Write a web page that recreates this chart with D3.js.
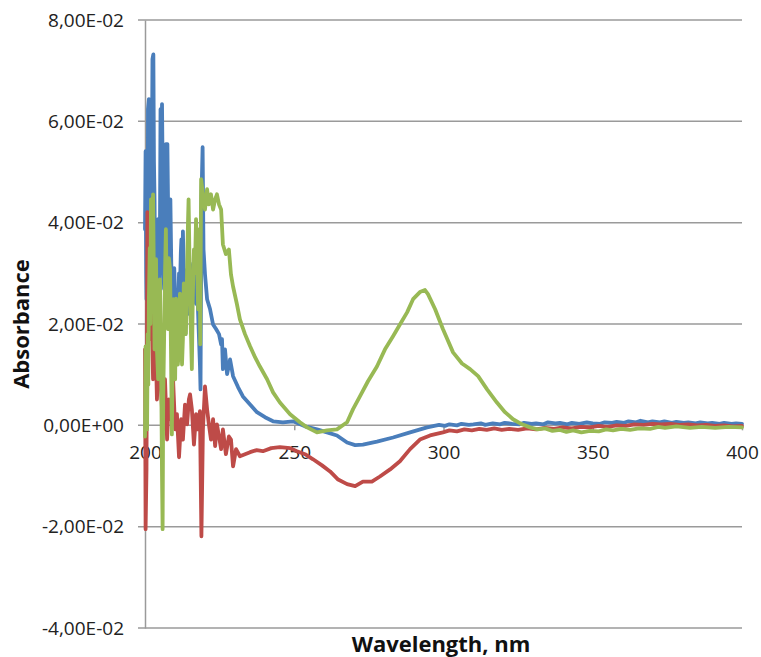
<!DOCTYPE html>
<html>
<head>
<meta charset="utf-8">
<script src="https://cdn.jsdelivr.net/npm/d3@7"></script>
<style>
  body { margin: 0; background: #fff; }
  text { font-family: "Open Sans", sans-serif; }
</style>
</head>
<body>
<div id="chart"></div>
<script>
/*
------------------------------
DATA, [wavelength nm, absorbance]
------------------------------
*/
const xTicks = [200, 250, 300, 350, 400];
const yTicks = [-0.04, -0.02, 0, 0.02, 0.04, 0.06, 0.08];

const blue = [
  [200.0, 0.0387], [200.2, 0.0541], [200.4, 0.0300], [200.5, 0.0249], [200.7, 0.0486],
  [200.9, 0.0350], [201.0, 0.0624], [201.3, 0.0644], [201.5, 0.0420], [201.7, 0.0328],
  [202.0, 0.0565], [202.2, 0.0410], [202.5, 0.0723], [202.8, 0.0732], [203.0, 0.0520],
  [203.2, 0.0446], [203.5, 0.0209], [203.7, 0.0400], [203.9, 0.0347], [204.0, 0.0190],
  [204.2, 0.0380], [204.4, 0.0407], [204.7, 0.0260], [204.9, 0.0249], [205.2, 0.0624],
  [205.4, 0.0480], [205.7, 0.0634], [206.0, 0.0446], [206.2, 0.0300], [206.4, 0.0269],
  [206.7, 0.0486], [207.0, 0.0555], [207.2, 0.0420], [207.5, 0.0555], [207.9, 0.0347],
  [208.2, 0.0209], [208.5, 0.0446], [208.8, 0.0320], [209.0, 0.0288], [209.3, 0.0200],
  [209.5, 0.0170], [209.8, 0.0310], [210.1, 0.0249], [210.4, 0.0180], [210.6, 0.0150],
  [210.9, 0.0260], [211.1, 0.0229], [211.4, 0.0300], [211.7, 0.0269], [212.0, 0.0340],
  [212.2, 0.0367], [212.5, 0.0250], [212.7, 0.0383], [213.0, 0.0300], [213.2, 0.0249],
  [213.5, 0.0180], [213.7, 0.0209], [214.0, 0.0290], [214.2, 0.0308], [214.5, 0.0220],
  [214.7, 0.0249], [215.0, 0.0320], [215.4, 0.0308], [215.7, 0.0230], [216.1, 0.0269],
  [216.5, 0.0310], [216.8, 0.0328], [217.1, 0.0240], [217.4, 0.0288], [217.8, 0.0220],
  [218.1, 0.0170], [218.4, 0.0120], [218.6, 0.0071], [218.9, 0.0446], [219.3, 0.0549],
  [219.6, 0.0347], [220.1, 0.0298], [220.8, 0.0249], [221.8, 0.0229], [222.8, 0.0199],
  [223.8, 0.0190], [224.8, 0.0180], [225.5, 0.0160], [225.8, 0.0170], [226.1, 0.0111],
  [226.8, 0.0150], [227.5, 0.0101], [228.5, 0.0130], [229.5, 0.0097], [231.2, 0.0075],
  [232.8, 0.0057], [235.2, 0.0041], [237.5, 0.0026], [240.2, 0.0016], [242.9, 0.0008],
  [246.2, 0.0006], [249.6, 0.0008], [253.6, -0.0002], [257.6, -0.0008], [261.0, -0.0014],
  [264.3, -0.0020], [267.7, -0.0034], [270.4, -0.0039], [273.0, -0.0038], [277.7, -0.0032],
  [283.1, -0.0024], [288.8, -0.0014], [294.5, -0.0004], [298.5, 0.0001], [300.5, -0.0001],
  [302.0, 0.0002], [304.5, 0.0000], [306.0, 0.0003], [308.5, 0.0001], [310.0, 0.0002],
  [312.5, 0.0004], [314.0, 0.0001], [316.5, 0.0004], [319.0, 0.0002], [320.5, 0.0005],
  [323.0, 0.0003], [325.5, 0.0002], [327.0, 0.0005], [329.5, 0.0003], [331.0, 0.0004],
  [333.5, 0.0002], [335.0, 0.0006], [337.5, 0.0004], [339.0, 0.0005], [341.5, 0.0002],
  [343.0, 0.0005], [345.5, 0.0003], [348.0, 0.0006], [350.0, 0.0004], [352.5, 0.0003],
  [354.0, 0.0006], [356.5, 0.0005], [358.0, 0.0007], [360.5, 0.0005], [362.0, 0.0008],
  [364.5, 0.0006], [366.0, 0.0009], [368.5, 0.0006], [370.0, 0.0008], [372.5, 0.0006],
  [374.0, 0.0008], [376.5, 0.0005], [378.0, 0.0007], [380.5, 0.0005], [382.0, 0.0006],
  [384.5, 0.0004], [386.0, 0.0006], [388.5, 0.0004], [390.0, 0.0005], [392.5, 0.0003],
  [394.0, 0.0005], [396.5, 0.0003], [398.0, 0.0004], [400.0, 0.0003]
];

const red = [
  [200.0, 0.0150], [200.2, -0.0205], [200.5, -0.0087], [200.8, 0.0421], [201.2, 0.0249],
  [201.7, 0.0170], [202.0, 0.0288], [202.7, 0.0091], [203.4, 0.0209], [204.0, 0.0051],
  [204.7, 0.0150], [205.0, 0.0249], [205.4, 0.0071], [206.0, -0.0008], [206.7, 0.0091],
  [207.4, -0.0028], [208.0, 0.0051], [208.7, 0.0012], [209.4, 0.0091], [210.1, -0.0008],
  [210.7, 0.0022], [211.4, -0.0063], [212.1, 0.0012], [212.7, -0.0028], [213.4, 0.0041],
  [214.1, 0.0002], [214.7, 0.0051], [215.1, 0.0061], [215.7, 0.0032], [216.4, -0.0038],
  [217.1, 0.0022], [217.8, -0.0008], [218.4, 0.0028], [218.9, -0.0219], [219.4, -0.0008],
  [220.1, 0.0077], [220.8, 0.0032], [221.4, 0.0002], [222.1, -0.0028], [222.8, 0.0012],
  [223.5, -0.0041], [224.1, 0.0002], [224.8, -0.0022], [225.5, -0.0047], [226.1, -0.0008],
  [227.1, -0.0057], [228.1, -0.0022], [228.8, -0.0028], [229.5, -0.0081], [230.5, -0.0047],
  [231.8, -0.0061], [233.5, -0.0057], [235.2, -0.0053], [237.4, -0.0049], [239.5, -0.0051],
  [242.3, -0.0045], [245.2, -0.0043], [248.6, -0.0045], [250.9, -0.0051], [253.6, -0.0057],
  [256.3, -0.0067], [259.3, -0.0079], [262.0, -0.0091], [264.7, -0.0107], [267.7, -0.0116],
  [270.4, -0.0120], [273.0, -0.0111], [276.0, -0.0111], [278.7, -0.0101], [282.1, -0.0087],
  [285.4, -0.0071], [288.8, -0.0047], [292.1, -0.0028], [295.5, -0.0020], [299.8, -0.0014],
  [302.0, -0.0010], [304.5, -0.0012], [307.0, -0.0008], [309.5, -0.0010], [312.0, -0.0007],
  [314.5, -0.0009], [317.0, -0.0006], [319.5, -0.0009], [322.0, -0.0007], [325.0, -0.0009],
  [328.0, -0.0006], [331.0, -0.0008], [334.0, -0.0005], [337.0, -0.0007], [340.0, -0.0004],
  [343.0, -0.0006], [346.0, -0.0003], [349.0, -0.0004], [352.0, -0.0001], [355.0, -0.0003],
  [358.0, 0.0000], [361.0, -0.0001], [364.0, 0.0002], [367.0, 0.0001], [370.0, 0.0003],
  [373.0, 0.0002], [376.0, 0.0003], [379.0, 0.0001], [382.0, 0.0002], [385.0, 0.0000],
  [388.0, 0.0001], [391.0, -0.0001], [394.0, 0.0000], [397.0, -0.0002], [400.0, -0.0001]
];

const green = [
  [200.0, -0.0022], [200.2, 0.0156], [200.4, 0.0050], [200.7, -0.0008], [200.9, 0.0180],
  [201.1, 0.0080], [201.3, 0.0249], [201.6, 0.0350], [201.8, 0.0200], [202.0, 0.0446],
  [202.3, 0.0300], [202.7, 0.0456], [203.0, 0.0280], [203.2, 0.0150], [203.5, 0.0250],
  [203.7, 0.0328], [204.0, 0.0150], [204.4, 0.0091], [204.7, 0.0220], [205.0, 0.0288],
  [205.3, 0.0150], [205.5, 0.0051], [205.7, -0.0100], [205.9, -0.0205], [206.1, 0.0050],
  [206.4, 0.0170], [206.7, 0.0300], [207.0, 0.0387], [207.3, 0.0250], [207.7, 0.0190],
  [208.0, 0.0330], [208.4, 0.0308], [208.7, 0.0150], [209.0, -0.0018], [209.3, 0.0150],
  [209.5, 0.0249], [209.8, 0.0180], [210.1, 0.0091], [210.4, 0.0250], [210.7, 0.0209],
  [211.0, 0.0120], [211.4, 0.0150], [211.7, 0.0260], [212.1, 0.0203], [212.4, 0.0120],
  [212.7, 0.0170], [213.0, 0.0280], [213.4, 0.0249], [213.7, 0.0180], [214.1, 0.0308],
  [214.4, 0.0400], [214.6, 0.0446], [214.9, 0.0330], [215.1, 0.0249], [215.4, 0.0180],
  [215.7, 0.0111], [216.0, 0.0250], [216.4, 0.0347], [216.7, 0.0300], [217.1, 0.0407],
  [217.4, 0.0340], [217.8, 0.0229], [218.0, 0.0300], [218.3, 0.0387], [218.5, 0.0160],
  [218.8, 0.0486], [219.4, 0.0456], [220.1, 0.0426], [220.8, 0.0466], [221.4, 0.0436],
  [222.1, 0.0456], [222.8, 0.0426], [223.5, 0.0446], [224.1, 0.0456], [224.8, 0.0436],
  [225.5, 0.0426], [226.1, 0.0357], [227.1, 0.0338], [228.1, 0.0347], [228.8, 0.0298],
  [229.5, 0.0274], [230.8, 0.0239], [231.8, 0.0209], [233.5, 0.0180], [235.2, 0.0156],
  [236.9, 0.0134], [238.5, 0.0116], [240.9, 0.0091], [242.9, 0.0065], [245.2, 0.0045],
  [248.6, 0.0022], [251.9, 0.0006], [254.3, -0.0004], [257.6, -0.0014], [261.0, -0.0010],
  [264.3, -0.0008], [267.7, 0.0006], [269.7, 0.0032], [272.0, 0.0057], [274.7, 0.0087],
  [277.7, 0.0116], [280.4, 0.0150], [283.1, 0.0176], [285.4, 0.0199], [287.8, 0.0223],
  [289.8, 0.0249], [292.1, 0.0263], [293.8, 0.0267], [294.8, 0.0259], [297.2, 0.0229],
  [299.8, 0.0190], [303.2, 0.0144], [306.2, 0.0122], [308.9, 0.0111], [311.6, 0.0097],
  [314.6, 0.0071], [317.9, 0.0045], [320.6, 0.0026], [323.3, 0.0012], [326.3, 0.0002],
  [329.0, -0.0004], [331.5, -0.0008], [334.0, -0.0006], [336.5, -0.0011], [339.0, -0.0009],
  [341.2, -0.0013], [343.4, -0.0010], [346.2, -0.0014], [349.1, -0.0011], [352.0, -0.0012],
  [354.5, -0.0008], [356.8, -0.0010], [359.5, -0.0007], [362.5, -0.0009], [365.5, -0.0006],
  [369.2, -0.0007], [372.0, -0.0003], [374.2, -0.0005], [378.0, -0.0002], [382.6, -0.0005],
  [386.5, -0.0003], [391.0, -0.0005], [395.5, -0.0003], [400.0, -0.0004]
];

const series = [
  { name: "blue", color: "#4a7ebb", values: blue },
  { name: "red", color: "#be4b48", values: red },
  { name: "green", color: "#98b954", values: green }
];

/*
------------------------------
METHOD: set the size of the canvas
------------------------------
*/
const width = 761;
const height = 657;
const margin = { top: 20, left: 145, right: 19, bottom: 29 };

const svg = d3
  .select("#chart")
  .append("svg")
  .attr("width", width)
  .attr("height", height);

const x = d3
  .scaleLinear()
  .domain([200, 400])
  .range([margin.left, width - margin.right]);

const y = d3
  .scaleLinear()
  .domain([-0.04, 0.08])
  .range([height - margin.bottom, margin.top]);

// Excel-like scientific label, e.g. 8,00E-02
function sci(v) {
  if (Math.abs(v) < 1e-12) return "0,00E+00";
  const e = Math.floor(Math.log10(Math.abs(v)) + 1e-9);
  const m = v / Math.pow(10, e);
  return m.toFixed(2).replace(".", ",") + "E" + (e < 0 ? "-" : "+") + String(Math.abs(e)).padStart(2, "0");
}

/*
------------------------------
METHOD: grid and axes
------------------------------
*/
svg
  .append("g")
  .selectAll("line")
  .data(yTicks)
  .join("line")
  .attr("x1", margin.left - 7)
  .attr("x2", width - margin.right)
  .attr("y1", (d) => y(d))
  .attr("y2", (d) => y(d))
  .attr("stroke", "#9a9a9a")
  .attr("stroke-width", 1.5);

const yAxis = svg
  .append("g")
  .attr("transform", `translate(${margin.left},0)`)
  .call(d3.axisLeft(y).tickValues(yTicks).tickFormat(sci).tickSize(0).tickPadding(21));
yAxis.select(".domain").attr("stroke", "#9a9a9a").attr("stroke-width", 1.5);
yAxis.selectAll("text").attr("font-size", 19).attr("fill", "#222").attr("font-family", "Open Sans");

const xAxis = svg
  .append("g")
  .attr("transform", `translate(0,${y(0)})`)
  .call(d3.axisBottom(x).tickValues(xTicks).tickSize(5).tickPadding(15));
xAxis.select(".domain").remove();
xAxis.selectAll("line").attr("stroke", "#9a9a9a").attr("stroke-width", 1.5);
xAxis.selectAll("text").attr("font-size", 19).attr("fill", "#222").attr("font-family", "Open Sans");

// axis titles
svg
  .append("text")
  .attr("transform", `translate(29,${(margin.top + height - margin.bottom) / 2}) rotate(-90)`)
  .attr("text-anchor", "middle")
  .attr("font-size", 22)
  .attr("font-weight", "bold")
  .attr("fill", "#111")
  .text("Absorbance");

svg
  .append("text")
  .attr("x", 441)
  .attr("y", 652)
  .attr("text-anchor", "middle")
  .attr("font-size", 22)
  .attr("font-weight", "bold")
  .attr("fill", "#111")
  .text("Wavelength, nm");

/*
------------------------------
METHOD: draw the spectra
------------------------------
*/
const line = d3
  .line()
  .x((d) => x(d[0]))
  .y((d) => y(d[1]));

svg
  .append("g")
  .selectAll("path")
  .data(series)
  .join("path")
  .attr("fill", "none")
  .attr("stroke", (d) => d.color)
  .attr("stroke-width", 3.8)
  .attr("stroke-linejoin", "round")
  .attr("stroke-linecap", "round")
  .attr("d", (d) => line(d.values));
</script>
</body>
</html>
